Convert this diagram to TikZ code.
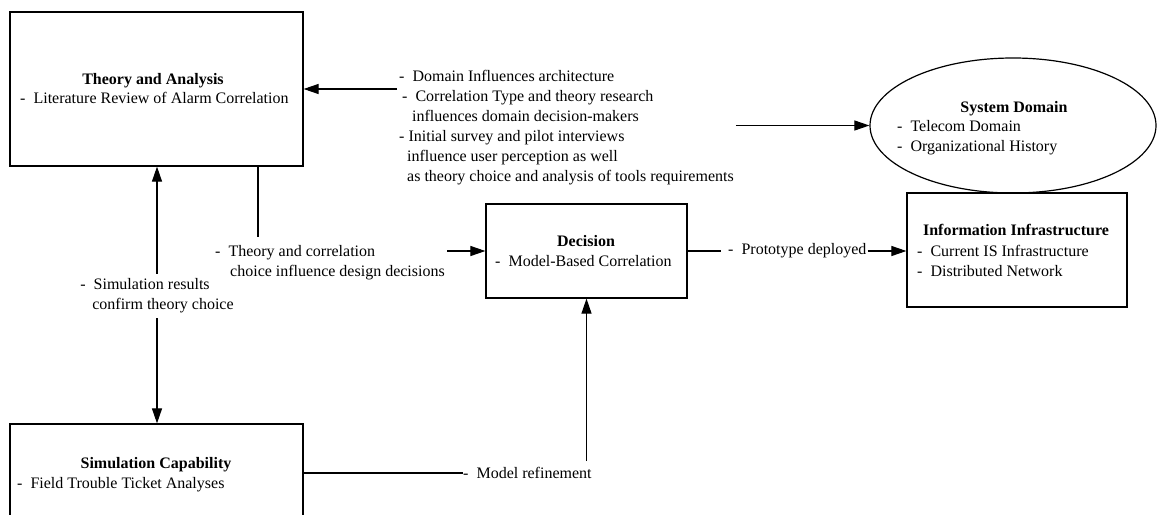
\documentclass[tikz,border=0pt]{standalone}
\usepackage{fontspec}
\setmainfont{Liberation Serif}
\usetikzlibrary{arrows.meta,shapes.geometric}
\begin{document}
\begin{tikzpicture}[x=1pt,y=-1pt,
  every node/.style={font=\fontsize{16}{20}\selectfont, inner sep=0pt},
  block/.style={draw, line width=1.2pt, rectangle, inner sep=0pt},
  oval/.style={draw, line width=1.2pt, ellipse, inner sep=0pt},
  heading/.style={font=\fontsize{16}{20}\selectfont\bfseries, anchor=base},
  item/.style={anchor=base west},
  items/.style={align=left, anchor=west},
  link/.style={line width=1.1pt},
  arrow/.style={link, -{Triangle[length=15pt,width=10pt]}},
]
\path[use as bounding box, clip] (0,0) rectangle (1158,514);

% Theory and Analysis
\node[block, minimum width=293, minimum height=154] (T) at (156.5,89) {};
\node[heading] (Ttitle) at (153,84) {Theory and Analysis};
\node[item] (Titem) at (20,103) {-~~Literature Review of Alarm Correlation};

% Simulation Capability (runs off the bottom edge)
\node[block, minimum width=293, minimum height=98] (S) at (156.5,473) {};
\node[heading] (Stitle) at (156,468) {Simulation Capability};
\node[item] (Sitem) at (17,488) {-~~Field Trouble Ticket Analyses};

% Decision
\node[block, minimum width=201, minimum height=94] (D) at (586.5,251) {};
\node[heading] (Dtitle) at (586,246) {Decision};
\node[item] (Ditem) at (495,266) {-~~Model-Based Correlation};

% Information Infrastructure
\node[block, minimum width=220, minimum height=114] (I) at (1017,250) {};
\node[heading] (Ititle) at (1016,235) {Information Infrastructure};
\node[items] (Iitems) at (917,261) {-~~Current IS Infrastructure\\-~~Distributed Network};

% System Domain
\node[oval, minimum width=286, minimum height=135] (E) at (1013,125.5) {};
\node[heading] (Etitle) at (1014,112) {System Domain};
\node[items] (Eitems) at (897,138) {-~~Telecom Domain\\-~~Organizational History};

% influences between theory and domain
\node[items, inner xsep=2pt] (infl) at (397,127.5) {%
  -~~Domain Influences architecture\\
  \hspace*{3pt}-~~Correlation Type and theory research\\
  \hspace*{13pt}influences domain decision-makers\\
  - Initial survey and pilot interviews\\
  \hspace*{8pt}influence user perception as well\\
  \hspace*{8pt}as theory choice and analysis of tools requirements};
\draw[arrow] (infl.west |- T.east) -- (T.east);
\draw[arrow] (infl.east |- E.west) -- (E.west);

% theory -> decision
\node[items, inner xsep=2pt, inner ysep=8.5pt] (tc) at (213,263) {%
  -~~Theory and correlation\\
  \hspace*{15pt}choice influence design decisions};
\coordinate (tcX) at (258,0);
\draw[link] (T.south -| tcX) -- (tc.north -| tcX);
\draw[arrow] (tc.east |- D.west) -- (D.west);

% theory <-> simulation
\node[align=left, inner ysep=5pt] (sr) at (157,296) {%
  -~~Simulation results\\
  \hspace*{12pt}confirm theory choice};
\draw[arrow] (sr.north) -- (sr.north |- T.south);
\draw[arrow] (sr.south) -- (sr.south |- S.north);

% decision -> infrastructure
\node[anchor=west] (pd) at (728,251) {-~~Prototype deployed};
\draw[link, shorten >=7pt] (D.east) -- (pd.west);
\draw[arrow, shorten <=1pt] (pd.east) -- (pd.east -| I.west);

% simulation -> decision
\node[anchor=west] (mr) at (463,473) {-~~Model refinement};
\draw[link] (S.east) -- (mr.west);
\draw[arrow, shorten <=6pt] (mr.north -| D.south) -- (D.south);
\end{tikzpicture}
\end{document}
